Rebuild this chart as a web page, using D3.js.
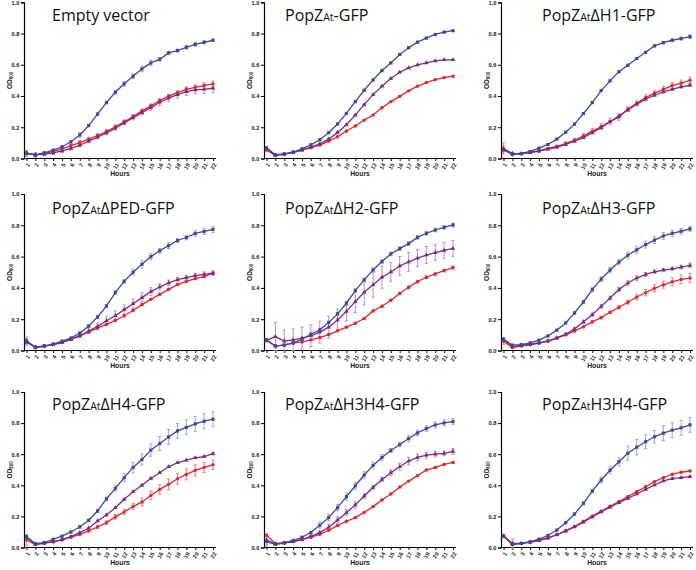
<!DOCTYPE html>
<html><head><meta charset="utf-8">
<script src="https://cdn.jsdelivr.net/npm/d3@7"></script>
<style>html,body{margin:0;padding:0;background:#fff;}svg{display:block;}</style>
</head><body>
<script>
// ---------- data ----------
const hours = [1,2,3,4,5,6,7,8,9,10,11,12,13,14,15,16,17,18,19,20,21,22];
const yTicks = [0,0.2,0.4,0.6,0.8,1.0];

const titles = [
  ["Empty vector","",""],
  ["PopZ","At","-GFP"],
  ["PopZ","At","ΔH1-GFP"],
  ["PopZ","At","ΔPED-GFP"],
  ["PopZ","At","ΔH2-GFP"],
  ["PopZ","At","ΔH3-GFP"],
  ["PopZ","At","ΔH4-GFP"],
  ["PopZ","At","ΔH3H4-GFP"],
  ["PopZ","At","H3H4-GFP"]
];

// Empty vector
const emptyBlue   = [0.034,0.023,0.036,0.053,0.075,0.107,0.151,0.211,0.284,0.358,0.424,0.478,0.527,0.574,0.612,0.635,0.676,0.691,0.712,0.731,0.744,0.757];
const emptyRed    = [0.036,0.023,0.032,0.045,0.062,0.083,0.102,0.124,0.147,0.173,0.203,0.235,0.269,0.305,0.337,0.371,0.399,0.422,0.443,0.456,0.467,0.478];
const emptyPurple = [0.032,0.023,0.028,0.036,0.049,0.064,0.085,0.111,0.136,0.164,0.194,0.228,0.262,0.294,0.326,0.360,0.386,0.409,0.428,0.439,0.443,0.450];
const emptyBlueErr   = [0.01,0.008,0.006,0.006,0.006,0.008,0.015,0.008,0.008,0.008,0.012,0.015,0.015,0.018,0.018,0.012,0.01,0.01,0.012,0.012,0.01,0.008];
const emptyRedErr    = [0.015,0.01,0.008,0.008,0.01,0.012,0.012,0.012,0.012,0.012,0.012,0.012,0.012,0.012,0.012,0.012,0.012,0.012,0.015,0.015,0.018,0.018];
const emptyPurpleErr = [0.02,0.015,0.01,0.01,0.01,0.01,0.01,0.01,0.01,0.012,0.012,0.012,0.015,0.015,0.018,0.02,0.02,0.022,0.025,0.025,0.028,0.03];

// PopZAt-GFP
const fullBlue   = [0.069,0.024,0.030,0.041,0.062,0.088,0.120,0.165,0.221,0.289,0.364,0.437,0.503,0.563,0.612,0.666,0.709,0.745,0.771,0.794,0.809,0.818];
const fullRed    = [0.054,0.019,0.028,0.039,0.054,0.069,0.086,0.111,0.139,0.176,0.208,0.246,0.278,0.325,0.364,0.398,0.433,0.463,0.486,0.505,0.518,0.527];
const fullPurple = [0.064,0.021,0.028,0.039,0.054,0.073,0.094,0.124,0.167,0.216,0.278,0.345,0.409,0.463,0.512,0.552,0.580,0.599,0.612,0.625,0.632,0.632];
const fullBlueErr   = [0.006,0.004,0.004,0.004,0.004,0.004,0.004,0.004,0.004,0.004,0.005,0.005,0.005,0.005,0.005,0.005,0.005,0.005,0.005,0.005,0.005,0.005];
const fullRedErr    = [0.006,0.004,0.004,0.004,0.004,0.004,0.004,0.004,0.004,0.004,0.004,0.004,0.004,0.004,0.004,0.004,0.004,0.004,0.004,0.004,0.004,0.004];
const fullPurpleErr = [0.006,0.004,0.004,0.004,0.004,0.004,0.004,0.004,0.004,0.004,0.004,0.004,0.004,0.004,0.004,0.004,0.004,0.004,0.004,0.004,0.004,0.004];

// PopZAt ΔH1-GFP
const dH1Blue   = [0.055,0.026,0.032,0.045,0.066,0.090,0.124,0.168,0.220,0.288,0.358,0.435,0.497,0.556,0.597,0.640,0.680,0.721,0.742,0.757,0.768,0.780];
const dH1Red    = [0.064,0.028,0.032,0.041,0.049,0.064,0.077,0.096,0.117,0.145,0.175,0.205,0.237,0.265,0.316,0.354,0.390,0.418,0.443,0.467,0.482,0.501];
const dH1Purple = [0.062,0.032,0.030,0.038,0.047,0.060,0.072,0.090,0.111,0.134,0.166,0.198,0.235,0.273,0.311,0.348,0.380,0.405,0.426,0.443,0.458,0.469];
const dH1BlueErr   = [0.008,0.005,0.004,0.004,0.004,0.004,0.004,0.004,0.004,0.005,0.005,0.006,0.006,0.006,0.006,0.006,0.006,0.006,0.008,0.01,0.01,0.012];
const dH1RedErr    = [0.035,0.01,0.006,0.006,0.006,0.006,0.008,0.01,0.012,0.015,0.018,0.018,0.02,0.02,0.015,0.015,0.018,0.018,0.018,0.018,0.02,0.02];
const dH1PurpleErr = [0.02,0.008,0.005,0.005,0.005,0.005,0.005,0.005,0.006,0.006,0.006,0.006,0.006,0.006,0.006,0.006,0.006,0.006,0.006,0.006,0.006,0.006];

// PopZAt ΔPED-GFP
const dPEDBlue   = [0.053,0.021,0.030,0.041,0.060,0.079,0.111,0.156,0.214,0.284,0.370,0.442,0.500,0.551,0.600,0.637,0.670,0.703,0.722,0.748,0.761,0.774];
const dPEDRed    = [0.064,0.017,0.028,0.038,0.053,0.071,0.092,0.118,0.143,0.167,0.192,0.222,0.256,0.293,0.327,0.359,0.391,0.421,0.442,0.459,0.472,0.494];
const dPEDPurple = [0.062,0.021,0.028,0.038,0.051,0.071,0.096,0.124,0.154,0.190,0.222,0.261,0.299,0.338,0.376,0.406,0.432,0.453,0.466,0.479,0.487,0.494];
const dPEDBlueErr   = [0.02,0.006,0.005,0.005,0.006,0.008,0.008,0.008,0.008,0.01,0.012,0.012,0.018,0.025,0.02,0.015,0.02,0.012,0.015,0.018,0.02,0.02];
const dPEDRedErr    = [0.008,0.005,0.004,0.004,0.004,0.004,0.005,0.005,0.005,0.006,0.006,0.006,0.006,0.006,0.006,0.006,0.006,0.006,0.006,0.006,0.006,0.008];
const dPEDPurpleErr = [0.025,0.008,0.006,0.006,0.006,0.008,0.01,0.015,0.02,0.025,0.03,0.03,0.03,0.03,0.025,0.02,0.018,0.015,0.015,0.015,0.015,0.015];

// PopZAt ΔH2-GFP
const dH2Blue   = [0.066,0.030,0.034,0.049,0.072,0.104,0.132,0.179,0.234,0.302,0.383,0.451,0.515,0.568,0.617,0.651,0.683,0.723,0.749,0.770,0.787,0.802];
const dH2Red    = [0.068,0.026,0.036,0.047,0.055,0.068,0.083,0.102,0.126,0.149,0.174,0.204,0.253,0.283,0.321,0.364,0.404,0.440,0.468,0.489,0.511,0.530];
const dH2Purple = [0.064,0.089,0.060,0.068,0.079,0.094,0.117,0.149,0.195,0.250,0.312,0.372,0.420,0.468,0.502,0.540,0.566,0.590,0.610,0.625,0.640,0.652];
const dH2BlueErr   = [0.006,0.006,0.005,0.005,0.006,0.008,0.008,0.008,0.01,0.012,0.012,0.012,0.012,0.012,0.012,0.012,0.012,0.012,0.012,0.012,0.012,0.012];
const dH2RedErr    = [0.006,0.005,0.004,0.004,0.004,0.004,0.004,0.005,0.005,0.005,0.005,0.005,0.006,0.006,0.006,0.006,0.008,0.008,0.008,0.008,0.008,0.01];
const dH2PurpleErr = [0.01,0.09,0.07,0.07,0.07,0.07,0.07,0.07,0.07,0.06,0.07,0.08,0.08,0.07,0.06,0.06,0.06,0.055,0.055,0.05,0.05,0.05];

// PopZAt ΔH3-GFP
const dH3Blue   = [0.072,0.034,0.038,0.049,0.066,0.093,0.130,0.176,0.240,0.310,0.389,0.456,0.514,0.565,0.609,0.643,0.677,0.705,0.732,0.749,0.762,0.777];
const dH3Red    = [0.059,0.019,0.028,0.036,0.047,0.059,0.079,0.100,0.125,0.151,0.183,0.210,0.244,0.276,0.308,0.342,0.369,0.397,0.420,0.439,0.454,0.463];
const dH3Purple = [0.070,0.028,0.032,0.040,0.049,0.062,0.081,0.104,0.138,0.183,0.229,0.282,0.335,0.389,0.431,0.463,0.486,0.503,0.514,0.522,0.533,0.544];
const dH3BlueErr   = [0.008,0.005,0.004,0.004,0.004,0.004,0.005,0.006,0.01,0.012,0.015,0.015,0.018,0.018,0.02,0.02,0.022,0.022,0.022,0.02,0.018,0.015];
const dH3RedErr    = [0.02,0.006,0.005,0.005,0.005,0.005,0.005,0.006,0.006,0.006,0.008,0.008,0.008,0.01,0.012,0.018,0.02,0.022,0.022,0.025,0.028,0.03];
const dH3PurpleErr = [0.01,0.005,0.004,0.004,0.004,0.004,0.005,0.006,0.008,0.01,0.01,0.012,0.012,0.015,0.015,0.015,0.012,0.012,0.01,0.01,0.012,0.015];

// PopZAt ΔH4-GFP
const dH4Blue   = [0.070,0.024,0.032,0.053,0.073,0.100,0.132,0.175,0.235,0.312,0.380,0.449,0.515,0.566,0.626,0.669,0.711,0.750,0.773,0.795,0.812,0.825];
const dH4Red    = [0.049,0.019,0.028,0.036,0.049,0.066,0.085,0.107,0.132,0.160,0.197,0.229,0.263,0.293,0.335,0.374,0.406,0.442,0.470,0.496,0.515,0.532];
const dH4Purple = [0.064,0.021,0.028,0.038,0.051,0.070,0.096,0.124,0.171,0.209,0.256,0.310,0.359,0.400,0.444,0.481,0.519,0.545,0.562,0.577,0.585,0.603];
const dH4BlueErr   = [0.012,0.005,0.005,0.005,0.005,0.006,0.008,0.008,0.01,0.012,0.018,0.025,0.035,0.035,0.04,0.045,0.048,0.048,0.048,0.048,0.048,0.048];
const dH4RedErr    = [0.035,0.006,0.005,0.005,0.005,0.005,0.006,0.008,0.01,0.012,0.015,0.018,0.02,0.025,0.028,0.03,0.035,0.035,0.035,0.035,0.032,0.03];
const dH4PurpleErr = [0.02,0.005,0.004,0.004,0.004,0.004,0.004,0.004,0.004,0.004,0.004,0.004,0.004,0.004,0.004,0.004,0.004,0.004,0.004,0.004,0.004,0.008];

// PopZAt ΔH3H4-GFP
const dH3H4Blue   = [0.038,0.021,0.032,0.045,0.066,0.096,0.143,0.192,0.256,0.327,0.397,0.466,0.528,0.579,0.624,0.662,0.701,0.737,0.765,0.788,0.801,0.810];
const dH3H4Red    = [0.079,0.026,0.030,0.038,0.051,0.066,0.085,0.111,0.141,0.169,0.192,0.226,0.263,0.306,0.344,0.389,0.427,0.462,0.498,0.515,0.534,0.547];
const dH3H4Purple = [0.049,0.021,0.028,0.038,0.053,0.071,0.096,0.130,0.177,0.224,0.274,0.331,0.387,0.438,0.481,0.519,0.556,0.579,0.594,0.600,0.605,0.618];
const dH3H4BlueErr   = [0.03,0.006,0.005,0.005,0.006,0.008,0.018,0.02,0.02,0.022,0.022,0.022,0.022,0.018,0.012,0.015,0.02,0.018,0.018,0.02,0.02,0.02];
const dH3H4RedErr    = [0.008,0.005,0.004,0.004,0.004,0.004,0.004,0.004,0.004,0.004,0.004,0.004,0.004,0.004,0.004,0.004,0.004,0.004,0.004,0.004,0.004,0.006];
const dH3H4PurpleErr = [0.03,0.008,0.006,0.006,0.006,0.008,0.01,0.02,0.02,0.02,0.02,0.015,0.012,0.015,0.018,0.022,0.025,0.022,0.02,0.018,0.015,0.018];

// PopZAt H3H4-GFP
const H3H4Blue   = [0.073,0.022,0.026,0.037,0.054,0.077,0.112,0.159,0.215,0.284,0.363,0.434,0.497,0.551,0.606,0.645,0.680,0.712,0.735,0.755,0.770,0.789];
const H3H4Red    = [0.075,0.018,0.026,0.034,0.047,0.062,0.082,0.108,0.135,0.168,0.202,0.234,0.265,0.295,0.327,0.359,0.391,0.424,0.449,0.471,0.484,0.492];
const H3H4Purple = [0.075,0.026,0.026,0.034,0.045,0.060,0.082,0.105,0.133,0.163,0.196,0.228,0.260,0.288,0.316,0.344,0.374,0.402,0.428,0.443,0.449,0.456];
const H3H4BlueErr   = [0.01,0.005,0.004,0.004,0.004,0.004,0.005,0.006,0.008,0.01,0.012,0.018,0.022,0.025,0.045,0.05,0.045,0.04,0.048,0.048,0.048,0.048];
const H3H4RedErr    = [0.01,0.015,0.005,0.004,0.004,0.004,0.004,0.004,0.004,0.004,0.004,0.004,0.004,0.004,0.004,0.004,0.004,0.004,0.004,0.004,0.004,0.004];
const H3H4PurpleErr = [0.008,0.03,0.005,0.004,0.004,0.004,0.004,0.004,0.004,0.004,0.004,0.004,0.004,0.004,0.004,0.004,0.004,0.004,0.004,0.004,0.004,0.004];

const panels = [
  [emptyBlue, emptyRed, emptyPurple, emptyBlueErr, emptyRedErr, emptyPurpleErr],
  [fullBlue, fullRed, fullPurple, fullBlueErr, fullRedErr, fullPurpleErr],
  [dH1Blue, dH1Red, dH1Purple, dH1BlueErr, dH1RedErr, dH1PurpleErr],
  [dPEDBlue, dPEDRed, dPEDPurple, dPEDBlueErr, dPEDRedErr, dPEDPurpleErr],
  [dH2Blue, dH2Red, dH2Purple, dH2BlueErr, dH2RedErr, dH2PurpleErr],
  [dH3Blue, dH3Red, dH3Purple, dH3BlueErr, dH3RedErr, dH3PurpleErr],
  [dH4Blue, dH4Red, dH4Purple, dH4BlueErr, dH4RedErr, dH4PurpleErr],
  [dH3H4Blue, dH3H4Red, dH3H4Purple, dH3H4BlueErr, dH3H4RedErr, dH3H4PurpleErr],
  [H3H4Blue, H3H4Red, H3H4Purple, H3H4BlueErr, H3H4RedErr, H3H4PurpleErr]
];

// ---------- layout / style ----------
const W = 696, H = 570;
const colX = [24, 264, 501];
const rowTop = [2.3, 194, 392];
const rowBot = [158.5, 350.5, 547.5];
const titleBase = [21, 213.5, 410];
const titleOffset = [28, 21, 41];
const colors = {
  blue:   {line:"#3a4a9e", err:"#9ea5d6"},
  red:    {line:"#e2282c", err:"#ee8080"},
  purple: {line:"#7e2a86", err:"#c08ec8"}
};
const FONT = "'Liberation Sans', Arial, sans-serif";
const TFONT = "'Open Sans', 'Noto Sans', sans-serif";

const svg = d3.select("body").append("svg").attr("width", W).attr("height", H);

panels.forEach((p, i) => {
  const c = i % 3, r = Math.floor(i / 3);
  const ax = colX[c];
  const x = d3.scaleLinear().domain([1, 22]).range([ax + 2.5, ax + 189]);
  const y = d3.scaleLinear().domain([0, 1]).range([rowBot[r], rowTop[r]]);
  const g = svg.append("g");

  // y axis
  const yAxis = d3.axisLeft(y).tickValues(yTicks).tickFormat(d3.format(".1f")).tickSize(3).tickPadding(1.5);
  const ya = g.append("g").attr("transform", `translate(${ax},0)`).call(yAxis);
  ya.select(".domain").attr("stroke", "#000").attr("stroke-width", 1.2);
  ya.selectAll(".tick line").attr("stroke", "#000").attr("stroke-width", 1);
  ya.selectAll("text").attr("font-family", FONT).attr("font-size", 5.8).attr("font-weight", "bold").attr("fill", "#222");

  // x axis
  const xAxis = d3.axisBottom(x).tickValues(hours).tickFormat(d3.format("d")).tickSize(2.5).tickSizeOuter(0);
  const xa = g.append("g").attr("transform", `translate(0,${rowBot[r]})`).call(xAxis);
  xa.select(".domain").attr("d", `M${ax},0H${ax + 192}`).attr("stroke", "#000").attr("stroke-width", 1.2);
  xa.selectAll(".tick line").attr("stroke", "#000").attr("stroke-width", 1);
  xa.selectAll("text")
    .attr("font-family", FONT).attr("font-size", 5.6).attr("font-weight", "bold").attr("fill", "#222")
    .attr("text-anchor", "end").attr("dy", "0.35em")
    .attr("transform", "translate(1.5,5) rotate(-60)").attr("x", 0).attr("y", 0);

  // axis titles
  g.append("text").attr("x", ax + 96).attr("y", rowBot[r] + 17.5)
    .attr("text-anchor", "middle").attr("font-family", FONT).attr("font-size", 6.8)
    .attr("font-weight", "bold").attr("fill", "#222").text("Hours");
  const yl = g.append("text")
    .attr("transform", `translate(${ax - 12.5},${(rowTop[r] + rowBot[r]) / 2}) rotate(-90)`)
    .attr("text-anchor", "middle").attr("font-family", FONT).attr("font-size", 6.5)
    .attr("font-weight", "bold").attr("fill", "#222");
  yl.append("tspan").text("OD");
  yl.append("tspan").attr("font-size", 4.5).attr("dy", 1.5).text("600");

  // panel title
  const t = titles[i];
  const tt = g.append("text").attr("x", ax + titleOffset[c]).attr("y", titleBase[r])
    .attr("font-family", TFONT).attr("font-size", 16).attr("fill", "#111");
  tt.append("tspan").text(t[0]);
  if (t[1]) tt.append("tspan").attr("font-size", 10.5).text(t[1]);
  if (t[2]) tt.append("tspan").text(t[2]);

  const series = [
    {vals: p[1], err: p[4], col: colors.red, shape: "circle"},
    {vals: p[2], err: p[5], col: colors.purple, shape: "triangle"},
    {vals: p[0], err: p[3], col: colors.blue, shape: "square"}
  ];
  const line = d3.line().x((d, k) => x(hours[k])).y(d => y(d));

  series.forEach(s => {
    const eg = g.append("g");
    s.vals.forEach((v, k) => {
      const e = s.err[k];
      if (!e) return;
      const px = x(hours[k]);
      eg.append("path")
        .attr("d", `M${px},${y(v - e)}V${y(v + e)}M${px - 1.6},${y(v - e)}H${px + 1.6}M${px - 1.6},${y(v + e)}H${px + 1.6}`)
        .attr("stroke", s.col.err).attr("stroke-width", 1).attr("fill", "none");
    });
  });
  series.forEach(s => {
    g.append("path").datum(s.vals).attr("d", line)
      .attr("fill", "none").attr("stroke", s.col.line).attr("stroke-width", 1.3);
    const sym = s.shape === "square" ? d3.symbolSquare : s.shape === "triangle" ? d3.symbolTriangle : d3.symbolCircle;
    const size = s.shape === "square" ? 10 : s.shape === "triangle" ? 9 : 9;
    g.append("g").selectAll("path").data(s.vals).join("path")
      .attr("transform", (d, k) => `translate(${x(hours[k])},${y(d)})`)
      .attr("d", d3.symbol().type(sym).size(size))
      .attr("fill", s.col.line);
  });
});
</script>
</body></html>
